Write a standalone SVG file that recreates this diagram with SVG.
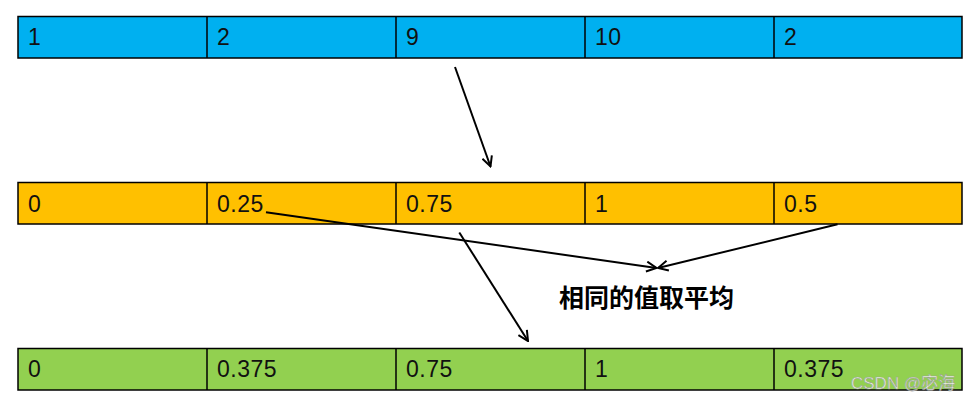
<svg xmlns="http://www.w3.org/2000/svg" width="980" height="403" viewBox="0 0 980 403">
<style>
.c{stroke:#000;stroke-width:1.5}
.b{fill:#00B0F0}.o{fill:#FFC000}.g{fill:#92D050}
.t{font-family:"Liberation Sans",Arial,sans-serif;font-size:23px;letter-spacing:0.5px;fill:#111}
.lbl{font-family:"Liberation Sans","Noto Sans CJK SC",sans-serif;font-size:25px;font-weight:bold;fill:#000}
.wm{font-family:"Liberation Sans","Noto Sans CJK SC",sans-serif;font-size:17px;fill:#fff;stroke:#9a9a9a;stroke-width:0.6;opacity:0.85}
.a{stroke:#000;stroke-width:2;fill:none;marker-end:url(#ah)}
</style>
<defs>
<marker id="ah" viewBox="0 0 12 12" refX="11" refY="6" markerWidth="12" markerHeight="12" markerUnits="userSpaceOnUse" orient="auto">
<path d="M1,1 L11,6 L1,11" fill="none" stroke="#000" stroke-width="2"/>
</marker>
</defs>
<rect width="980" height="403" fill="#fff"/>
<g id="row1">
<rect class="c b" x="18" y="16.5" width="944" height="41.5"/>
<path class="c" d="M207,16.5V58M396,16.5V58M585,16.5V58M774,16.5V58"/>
<text class="t" x="28" y="45">1</text>
<text class="t" x="217" y="45">2</text>
<text class="t" x="406" y="45">9</text>
<text class="t" x="595" y="45">10</text>
<text class="t" x="784" y="45">2</text>
</g>
<g id="row2">
<rect class="c o" x="18" y="182.5" width="944" height="41.5"/>
<path class="c" d="M207,182.5V224M396,182.5V224M585,182.5V224M774,182.5V224"/>
<text class="t" x="28" y="212">0</text>
<text class="t" x="217" y="212">0.25</text>
<text class="t" x="406" y="212">0.75</text>
<text class="t" x="595" y="212">1</text>
<text class="t" x="784" y="212">0.5</text>
</g>
<g id="row3">
<rect class="c g" x="18" y="348.5" width="944" height="41.5"/>
<path class="c" d="M207,348.5V390M396,348.5V390M585,348.5V390M774,348.5V390"/>
<text class="t" x="28" y="377">0</text>
<text class="t" x="217" y="377">0.375</text>
<text class="t" x="406" y="377">0.75</text>
<text class="t" x="595" y="377">1</text>
<text class="t" x="784" y="377">0.375</text>
</g>
<g id="label">
<text class="lbl" x="559" y="307">相同的值取平均</text>
</g>
<g id="connectors">
<path class="a" d="M455,67L490.5,166.5"/>
<path class="a" d="M266,212.3L656.5,268"/>
<path class="a" d="M837.5,224.3L658,268"/>
<path class="a" d="M459.3,232.5L528,341"/>
</g>
<g id="watermark">
<text class="wm" x="851" y="389">CSDN @宓海</text>
</g>
</svg>
